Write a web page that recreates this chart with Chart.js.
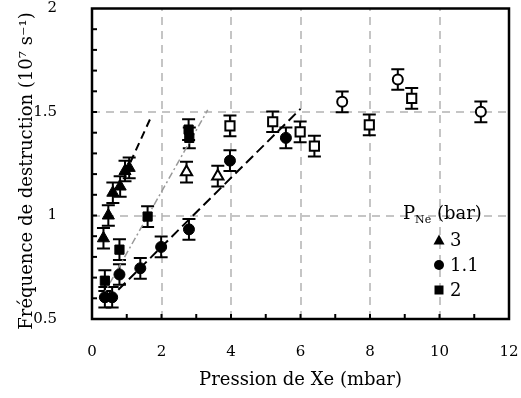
<!DOCTYPE html>
<html><head><meta charset="utf-8">
<script src="https://cdn.jsdelivr.net/npm/chart.js@4/dist/chart.umd.min.js"></script>
<style>html,body{margin:0;padding:0;background:#fff;}canvas{display:block;}</style>
</head><body>
<canvas id="c" width="521" height="398"></canvas>
<script>
// ---- data ----
const xTicks = [0, 2, 4, 6, 8, 10, 12];
const yTicks = [0.5, 1, 1.5, 2];
const xGrid = [2, 4, 6, 8, 10];
const yGrid = [1, 1.5];

const tri3X = [0.33, 0.47, 0.60, 0.81, 0.95, 1.07];
const tri3Y = [0.89, 1.00, 1.11, 1.14, 1.215, 1.23];
const tri3Err = [0.05, 0.05, 0.05, 0.05, 0.05, 0.05];

const circ11X = [0.37, 0.58, 0.79, 1.39, 1.99, 2.79, 3.97, 5.58];
const circ11Y = [0.605, 0.605, 0.715, 0.745, 0.848, 0.933, 1.265, 1.375];
const circ11Err = [0.05, 0.05, 0.05, 0.05, 0.05, 0.05, 0.05, 0.05];

const sq2X = [0.37, 0.79, 1.60, 2.78, 2.80];
const sq2Y = [0.685, 0.835, 0.995, 1.415, 1.375];
const sq2Err = [0.05, 0.05, 0.05, 0.05, 0.05];

const openTriX = [2.72, 3.62];
const openTriY = [1.21, 1.19];
const openTriErr = [0.05, 0.05];

const openSqX = [3.97, 5.2, 5.99, 6.4, 7.98, 9.2];
const openSqY = [1.433, 1.453, 1.404, 1.335, 1.438, 1.566];
const openSqErr = [0.05, 0.05, 0.05, 0.05, 0.05, 0.05];

const openCircX = [7.2, 8.8, 11.19];
const openCircY = [1.549, 1.657, 1.501];
const openCircErr = [0.05, 0.05, 0.05];

const fitAX = [0.95, 1.67];
const fitAY = [1.20, 1.465];
const fitBX = [0.30, 3.33];
const fitBY = [0.61, 1.51];
const fitCX = [0.45, 6.0];
const fitCY = [0.59, 1.515];

const legendTitle = ['P', 'Ne', ' (bar)'];
const legendLabels = ['3', '1.1', '2'];
const xTitle = 'Pression de Xe (mbar)';
const yTitle = 'Fréquence de destruction (10⁷ s⁻¹)';

// ---- helpers ----
const pts = (xs, ys) => xs.map((v, i) => ({x: v, y: ys[i]}));
const SERIF = '"DejaVu Serif", serif';

function markerDs(xs, ys, err, style, filled, radius) {
  return {
    type: 'scatter', data: pts(xs, ys), err: err,
    pointStyle: style, pointRadius: radius, pointHoverRadius: radius,
    backgroundColor: filled ? '#000' : '#fff', borderColor: '#000',
    pointBorderWidth: filled ? 1 : 2, showLine: false, order: 1
  };
}
function lineDs(xs, ys, color, dash, width) {
  return {
    type: 'scatter', data: pts(xs, ys), showLine: true, pointRadius: 0,
    borderColor: color, borderWidth: width, borderDash: dash, fill: false, order: 5
  };
}
function noPad(s) { s.paddingTop = 0; s.paddingBottom = 0; s.paddingLeft = 0; s.paddingRight = 0; }

const decor = {
  id: 'decor',
  beforeDatasetsDraw(chart) {
    const {ctx, chartArea: a, scales: {x, y}} = chart;
    ctx.save();
    ctx.strokeStyle = '#b3b3b3'; ctx.lineWidth = 1.5; ctx.setLineDash([8, 6]);
    xGrid.forEach(v => { const p = Math.round(x.getPixelForValue(v)); ctx.beginPath(); ctx.moveTo(p, a.bottom); ctx.lineTo(p, a.top); ctx.stroke(); });
    yGrid.forEach(v => { const p = Math.round(y.getPixelForValue(v)); ctx.beginPath(); ctx.moveTo(a.left, p); ctx.lineTo(a.right, p); ctx.stroke(); });
    ctx.setLineDash([]);
    ctx.strokeStyle = '#000'; ctx.lineWidth = 2;
    chart.data.datasets.forEach(ds => {
      if (!ds.err) return;
      ds.data.forEach((p, j) => {
        const px = x.getPixelForValue(p.x);
        const y1 = y.getPixelForValue(p.y + ds.err[j]);
        const y2 = y.getPixelForValue(p.y - ds.err[j]);
        ctx.beginPath();
        ctx.moveTo(px, y1); ctx.lineTo(px, y2);
        ctx.moveTo(px - 6.5, y1); ctx.lineTo(px + 6.5, y1);
        ctx.moveTo(px - 6.5, y2); ctx.lineTo(px + 6.5, y2);
        ctx.stroke();
      });
    });
    ctx.restore();
  },
  afterDraw(chart) {
    const {ctx, chartArea: a, scales: {x, y}} = chart;
    ctx.save();
    // ticks inward
    ctx.strokeStyle = '#000'; ctx.lineWidth = 2;
    for (let v = 1; v < 12; v++) { const p = x.getPixelForValue(v); ctx.beginPath(); ctx.moveTo(p, a.bottom); ctx.lineTo(p, a.bottom - 5); ctx.stroke(); }
    for (let k = 6; k < 20; k++) { const p = y.getPixelForValue(k / 10); ctx.beginPath(); ctx.moveTo(a.left, p); ctx.lineTo(a.left + 5, p); ctx.stroke(); }
    // box
    ctx.lineWidth = 2.5;
    ctx.strokeRect(a.left, a.top, a.right - a.left, a.bottom - a.top);
    // y axis title
    ctx.fillStyle = '#000';
    ctx.save();
    ctx.translate(27, 171); ctx.rotate(-Math.PI / 2);
    ctx.font = '18px ' + SERIF; ctx.textAlign = 'center'; ctx.textBaseline = 'middle';
    ctx.fillText(yTitle, 0, 0);
    ctx.restore();
    // legend
    ctx.textBaseline = 'alphabetic'; ctx.textAlign = 'left';
    let tx = 403;
    ctx.font = '18px ' + SERIF; ctx.fillText(legendTitle[0], tx, 219); tx += ctx.measureText(legendTitle[0]).width;
    ctx.font = '11px ' + SERIF; ctx.fillText(legendTitle[1], tx, 223); tx += ctx.measureText(legendTitle[1]).width;
    ctx.font = '18px ' + SERIF; ctx.fillText(legendTitle[2], tx, 219);
    const ys = [240, 265, 290];
    ctx.textBaseline = 'middle';
    legendLabels.forEach((t, i) => {
      const cy = ys[i], cx = 439;
      ctx.beginPath();
      if (i === 0) { ctx.moveTo(cx, cy - 5.5); ctx.lineTo(cx + 5.5, cy + 4.5); ctx.lineTo(cx - 5.5, cy + 4.5); ctx.closePath(); }
      else if (i === 1) { ctx.arc(cx, cy, 5, 0, Math.PI * 2); }
      else { ctx.rect(cx - 4.5, cy - 4.5, 9, 9); }
      ctx.fill();
      ctx.font = '18px ' + SERIF;
      ctx.fillText(t, 450, cy + 1);
    });
    ctx.restore();
  }
};

new Chart(document.getElementById('c'), {
  type: 'scatter',
  data: {
    datasets: [
      markerDs(tri3X, tri3Y, tri3Err, 'triangle', true, 7),
      markerDs(circ11X, circ11Y, circ11Err, 'circle', true, 5.5),
      markerDs(sq2X, sq2Y, sq2Err, 'rect', true, 6.5),
      markerDs(openTriX, openTriY, openTriErr, 'triangle', false, 6.5),
      markerDs(openSqX, openSqY, openSqErr, 'rect', false, 6.5),
      markerDs(openCircX, openCircY, openCircErr, 'circle', false, 5),
      lineDs(fitAX, fitAY, '#000', [8, 5], 2),
      lineDs(fitBX, fitBY, '#999', [7, 3, 2, 3], 1.5),
      lineDs(fitCX, fitCY, '#000', [10, 5], 2)
    ]
  },
  options: {
    responsive: false, animation: false, devicePixelRatio: 1,
    layout: {padding: {top: 7, right: 12, left: 0, bottom: 0}},
    plugins: {legend: {display: false}, tooltip: {enabled: false}},
    scales: {
      x: {
        type: 'linear', min: 0, max: 12,
        afterBuildTicks: s => { s.ticks = xTicks.map(v => ({value: v})); },
        afterFit: s => { s.height = 79; noPad(s); },
        grid: {display: false}, border: {display: false},
        ticks: {color: '#000', font: {family: SERIF, size: 15}, padding: 16, maxRotation: 0, callback: v => String(v)},
        title: {display: true, text: xTitle, color: '#000', font: {family: SERIF, size: 18}, padding: {top: 7, bottom: 7}}
      },
      y: {
        type: 'linear', min: 0.5, max: 2,
        afterBuildTicks: s => { s.ticks = yTicks.map(v => ({value: v})); },
        afterFit: s => { s.width = 92; noPad(s); },
        grid: {display: false}, border: {display: false},
        ticks: {color: '#000', font: {family: SERIF, size: 15}, padding: 27, callback: v => String(v)},
        title: {display: false}
      }
    }
  },
  plugins: [decor]
});
</script>
</body></html>
